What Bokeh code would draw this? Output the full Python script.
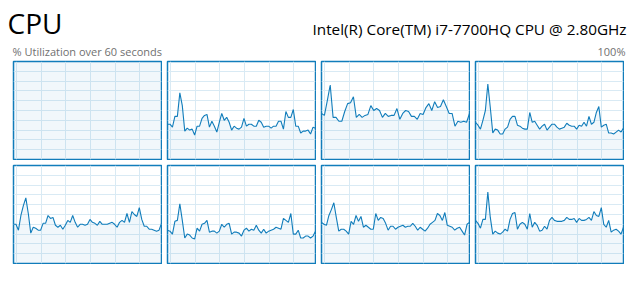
import numpy as np
from bokeh.plotting import figure
from bokeh.layouts import column, row
from bokeh.models import Range1d, Label, FixedTicker, ColumnDataSource
from bokeh.embed import file_html
from bokeh.resources import INLINE

title = "CPU"
cpu_name = "Intel(R) Core(TM) i7-7700HQ CPU @ 2.80GHz"
subtitle = "% Utilization over 60 seconds"
max_label = "100%"

# % utilization per logical processor, one sample per second (oldest -> newest)
cpu0 = [100, 100, 100, 100, 100, 100, 100, 100, 100, 100, 100, 100, 100, 100, 100, 100,
        100, 100, 100, 100, 100, 100, 100, 100, 100, 100, 100, 100, 100, 100, 100, 100,
        100, 100, 100, 100, 100, 100, 100, 100, 100, 100, 100, 100, 100, 100, 100, 100,
        100, 100, 100, 100, 100, 100, 100, 100, 100, 100, 100, 100, 100]
cpu1 = [36, 36, 33, 44, 44, 68, 55, 29, 32, 30, 31, 25, 34, 34, 42, 45, 46, 33, 39, 34,
        28, 38, 47, 40, 43, 38, 30, 34, 32, 31, 33, 42, 34, 36, 36, 34, 34, 40, 38, 33,
        34, 34, 32, 34, 34, 39, 39, 31, 49, 43, 43, 51, 34, 34, 27, 29, 29, 30, 26, 33, 32]
cpu2 = [47, 45, 60, 76, 43, 43, 39, 39, 49, 57, 58, 64, 43, 46, 43, 45, 46, 55, 50, 52,
        50, 43, 47, 44, 45, 45, 52, 41, 47, 50, 49, 44, 44, 41, 47, 46, 53, 57, 50, 59,
        53, 54, 61, 54, 47, 47, 34, 39, 38, 39, 38, 47]
cpu3 = [38, 35, 31, 40, 50, 77, 53, 27, 31, 30, 26, 26, 31, 33, 41, 44, 44, 35, 34, 32,
        31, 31, 48, 38, 39, 35, 31, 34, 36, 30, 33, 36, 36, 33, 31, 32, 33, 37, 35, 34,
        34, 31, 35, 34, 38, 34, 44, 36, 38, 48, 54, 33, 35, 36, 27, 27, 26, 28, 30, 28, 32]
cpu4 = [40, 40, 34, 49, 59, 67, 51, 31, 37, 36, 34, 34, 41, 41, 49, 46, 47, 39, 37, 39,
        35, 39, 44, 42, 49, 42, 37, 40, 40, 39, 40, 45, 42, 41, 39, 43, 40, 40, 40, 41,
        42, 40, 37, 42, 44, 42, 51, 42, 53, 50, 48, 57, 45, 38, 38, 35, 35, 34, 33, 34, 41]
cpu5 = [34, 33, 30, 43, 44, 61, 44, 26, 30, 29, 26, 25, 36, 33, 40, 41, 44, 32, 33, 33,
        31, 33, 40, 37, 40, 41, 30, 32, 32, 31, 28, 34, 36, 33, 35, 34, 39, 34, 31, 35,
        31, 33, 34, 35, 37, 36, 35, 46, 44, 42, 51, 30, 30, 34, 26, 26, 28, 28, 26, 28, 33]
cpu6 = [42, 40, 39, 49, 55, 62, 47, 33, 35, 35, 33, 30, 43, 40, 49, 43, 48, 37, 39, 37,
        35, 35, 51, 44, 47, 46, 41, 34, 38, 38, 35, 37, 38, 39, 37, 38, 38, 41, 38, 34,
        37, 35, 33, 36, 40, 42, 44, 51, 49, 44, 52, 39, 38, 37, 34, 36, 37, 33, 29, 40, 42]
cpu7 = [44, 41, 36, 45, 45, 73, 47, 30, 33, 31, 30, 32, 35, 33, 45, 51, 52, 35, 40, 42,
        40, 35, 51, 37, 42, 39, 33, 34, 38, 35, 44, 47, 44, 43, 43, 43, 44, 47, 45, 45,
        46, 42, 46, 44, 44, 45, 47, 44, 53, 49, 48, 57, 40, 37, 44, 32, 34, 35, 33, 30, 37]
series = [cpu0, cpu1, cpu2, cpu3, cpu4, cpu5, cpu6, cpu7]

window_seconds = 60
grid_seconds = [1.2, 11.2, 21.2, 31.2, 41.2, 51.2]
grid_percent = [10, 20, 30, 40, 50, 60, 70, 80, 90]

BLUE = "#117DBB"
GRID = "#D9EAF4"
GREY = "#707070"
FONT = "Open Sans"


def panel(vals):
    t = np.linspace(0, window_seconds, len(vals))
    p = figure(width=150, height=100, x_range=Range1d(0, window_seconds),
               y_range=Range1d(0, 100), output_backend="svg", toolbar_location=None,
               min_border=1, x_axis_location=None, y_axis_location=None)
    p.xgrid.ticker = FixedTicker(ticks=grid_seconds)
    p.ygrid.ticker = FixedTicker(ticks=grid_percent)
    p.grid.grid_line_color = GRID
    p.grid.grid_line_width = 1
    p.outline_line_color = BLUE
    p.outline_line_width = 1.5
    p.outline_line_alpha = 1
    p.background_fill_color = "white"
    p.border_fill_color = "white"
    src = ColumnDataSource(dict(t=t, v=vals))
    p.varea(x="t", y1=0, y2="v", source=src, fill_color=BLUE, fill_alpha=0.06)
    p.line("t", "v", source=src, line_color=BLUE, line_width=1.1)
    return p


header = figure(width=634, height=60, x_range=Range1d(0, 634), y_range=Range1d(60, 0),
                output_backend="svg", toolbar_location=None, min_border=0,
                x_axis_location=None, y_axis_location=None)
header.grid.visible = False
header.outline_line_color = None
header.border_fill_color = "white"
header.add_layout(Label(x=7, y=22, text=title, text_font=FONT, text_font_size="28px",
                        text_color="#000000", text_baseline="middle"))
header.add_layout(Label(x=626, y=28.5, text=cpu_name, text_font=FONT, text_font_size="15.3px",
                        text_color="#000000", text_align="right", text_baseline="middle"))
header.add_layout(Label(x=12, y=50.5, text=subtitle, text_font=FONT, text_font_size="11px",
                        text_color=GREY, text_baseline="middle"))
header.add_layout(Label(x=625, y=50.5, text=max_label, text_font=FONT, text_font_size="11px",
                        text_color=GREY, text_align="right", text_baseline="middle"))

panels = [panel(s) for s in series]
r1 = row(panels[:4], spacing=4, margin=(0, 0, 0, 12))
r2 = row(panels[4:], spacing=4, margin=(4, 0, 0, 12))
layout = column(header, r1, r2, spacing=0)

open("out.html", "w").write(file_html(layout, INLINE))
